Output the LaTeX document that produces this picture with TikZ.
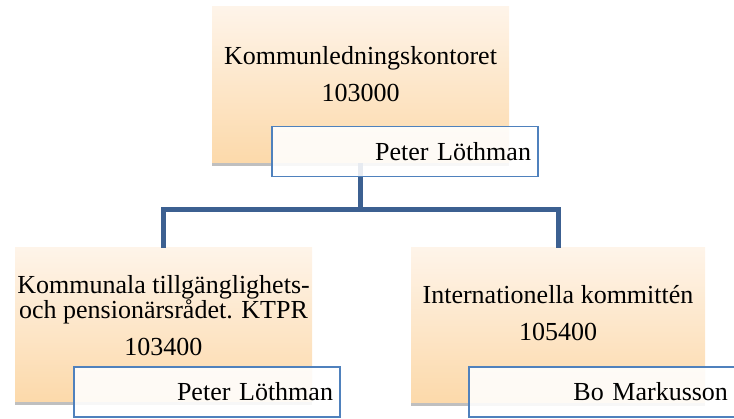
\documentclass[tikz,border=0pt]{standalone}
\usepackage{fontspec}
\setmainfont{Liberation Serif}
\usetikzlibrary{positioning,shadows}

\definecolor{unittop}{RGB}{254,244,233}
\definecolor{unitbottom}{RGB}{252,217,170}
\definecolor{namerim}{RGB}{79,129,189}
\definecolor{linkblue}{RGB}{60,96,145}

\tikzset{
  unitbox/.style={draw=none, top color=unittop, bottom color=unitbottom, inner sep=0pt,
    drop shadow={shadow xshift=0pt, shadow yshift=-3pt, fill=black!50, opacity=0.5}},
  unittext/.style={inner sep=0pt, align=center, font=\fontsize{26}{25}\selectfont},
  namebox/.style={draw=namerim, line width=1.5pt, fill=white, fill opacity=0.88, text opacity=1,
    minimum height=50pt, text width=252pt, inner xsep=7pt, inner ysep=0pt, align=right,
    font=\fontsize{26}{25}\selectfont},
  link/.style={draw=linkblue, line width=5pt}
}

\begin{document}
\begin{tikzpicture}[x=1pt, y=-1pt]
\useasboundingbox (0,0) rectangle (734,419);

% STEP 1: the three unit boxes
\node[unitbox, minimum width=297pt, minimum height=156pt] (klk) at (360.5,85) {};
\node[unitbox, minimum width=297pt, minimum height=154pt] (ktpr) at (163.5,325) {};
\node[unitbox, minimum width=294pt, minimum height=155pt] (intk) at (558,325.5) {};

% STEP 2: unit names and numbers
\node[unittext, below=39pt of klk.north] (klk-txt) {Kommunledningskontoret\\[12pt]103000};
\node[unittext, below=27pt of ktpr.north] (ktpr-txt) {Kommunala tillgänglighets-\\och pensionärsrådet. KTPR\\[12pt]103400};
\node[unittext, below=37pt of intk.north] (intk-txt) {Internationella kommittén\\[12pt]105400};

% STEP 3: the connectors, top box down to the two units
\coordinate (bus) at (0,210);
\draw[link] (klk.south) -- (klk.south |- bus) -| (ktpr.north);
\draw[link] (klk.south |- bus) -| (intk.north);

% STEP 4: the boxes with the persons in charge
\node[namebox] (klk-name) at (405,151.5) {Peter Löthman};
\node[namebox] (ktpr-name) at (207,392) {Peter Löthman};
\node[namebox] (intk-name) at (602,392) {Bo Markusson};

\end{tikzpicture}
\end{document}
